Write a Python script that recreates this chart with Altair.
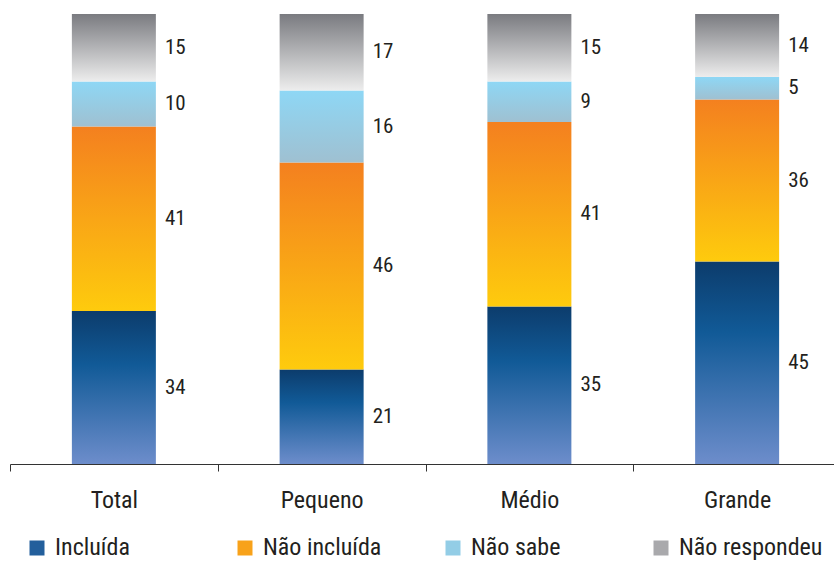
import altair as alt
import pandas as pd

categorias = ["Total", "Pequeno", "Médio", "Grande"]
series = ["Incluída", "Não incluída", "Não sabe", "Não respondeu"]
incluida = [34, 21, 35, 45]
nao_incluida = [41, 46, 41, 36]
nao_sabe = [10, 16, 9, 5]
nao_respondeu = [15, 17, 15, 14]

valores = [incluida, nao_incluida, nao_sabe, nao_respondeu]
rows = []
for si, (s, vals) in enumerate(zip(series, valores)):
    for ci, c in enumerate(categorias):
        rows.append({"cat": c, "serie": s, "idx": si, "valor": vals[ci]})
df = pd.DataFrame(rows)

stops = {
    "Incluída": [(0, "#0c3c6c"), (0.35, "#115a97"), (1, "#6d8dcb")],
    "Não incluída": [(0, "#f4801f"), (1, "#fecb0d")],
    "Não sabe": [(0, "#8ed7f5"), (1, "#9fc0d1")],
    "Não respondeu": [(0, "#7a7b80"), (1, "#ededed")],
}
solid = ["#235f9c", "#f8a21a", "#93cde6", "#a9a9ac"]


def grad(s):
    return {
        "gradient": "linear",
        "x1": 0, "y1": 0, "x2": 0, "y2": 1,
        "stops": [{"offset": o, "color": c} for o, c in stops[s]],
    }


font = "Roboto Condensed, DejaVu Sans Condensed, Roboto, sans-serif"
txt = "#231f20"

base = alt.Chart(df).transform_stack(
    stack="valor", as_=["y0", "y1"], groupby=["cat"], sort=[alt.SortField("idx")]
).transform_calculate(ymid="(datum.y0 + datum.y1) / 2")

xenc = alt.X(
    "cat:N",
    sort=categorias,
    title=None,
    scale=alt.Scale(paddingInner=0, paddingOuter=0, range=[0, 831]),
    axis=alt.Axis(
        tickBand="extent",
        grid=False,
        labelAngle=0,
        labelFont=font,
        labelFontSize=24,
        labelColor=txt,
        labelPadding=17,
        tickSize=7,
        tickColor="#333333",
        domainColor="#333333",
        domainWidth=1,
        tickWidth=1,
    ),
)

yscale = alt.Scale(domain=[0, 100])
cscale = alt.Scale(domain=series, range=solid)

bars = base.mark_bar(width=84).encode(
    x=xenc,
    y=alt.Y("y1:Q", scale=yscale, axis=None),
    y2="y0:Q",
    color=alt.Color(
        "serie:N",
        sort=series,
        scale=cscale,
        condition=[{"test": "datum.serie === '%s'" % s, "value": grad(s)} for s in series],
        legend=alt.Legend(
            title=None,
            orient="none",
            legendX=15,
            legendY=522,
            direction="horizontal",
            columns=4,
            gridAlign="all",
            columnPadding=34,
            symbolType="square",
            symbolSize=225,
            symbolStrokeWidth=0,
            symbolOpacity=1,
            labelFont=font,
            labelFontSize=24,
            labelColor=txt,
            labelOffset=6,
            labelLimit=300,
        ),
    ),
)

labels = base.mark_text(align="left", baseline="middle", dx=51, font=font, fontSize=21, color=txt).encode(
    x=alt.X("cat:N", sort=categorias, title=None),
    y=alt.Y("ymid:Q", scale=yscale, axis=None),
    text="valor:Q",
)

chart = alt.layer(bars, labels).properties(
    width=824,
    height=450,
    autosize=alt.AutoSizeParams(type="none"),
    padding={"left": 10, "top": 14, "right": 0, "bottom": 97},
).configure(background="white").configure_view(stroke=None)

chart.save("out.html", embed_options={"renderer": "svg", "actions": False})
